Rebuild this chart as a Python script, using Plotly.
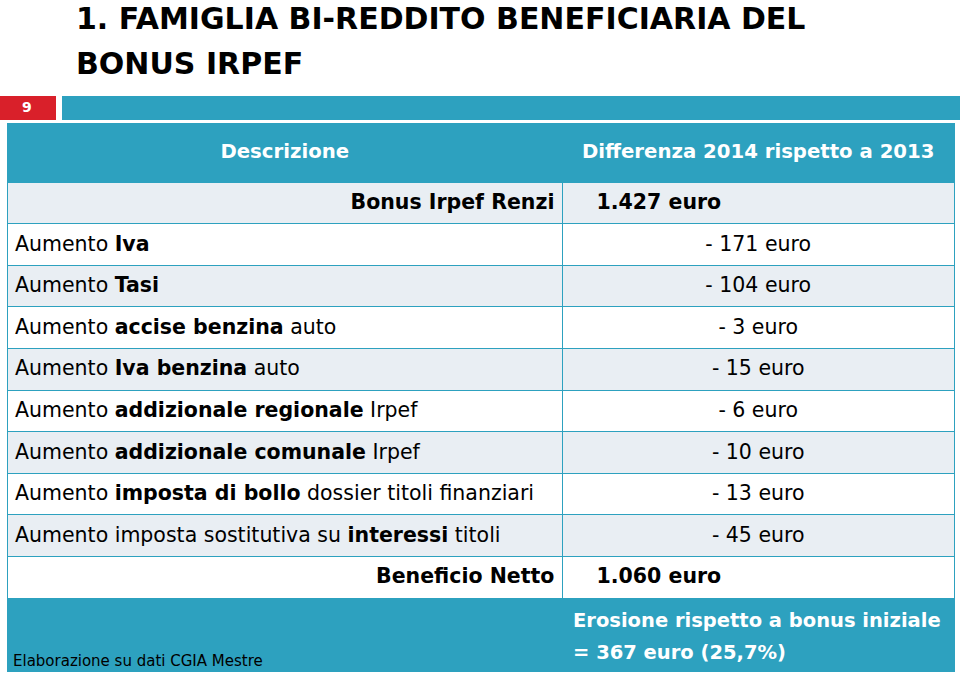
import plotly.graph_objects as go

# ---- data ----
title_lines = ["1. FAMIGLIA BI-REDDITO BENEFICIARIA DEL", "BONUS IRPEF"]
slide_number = "9"
header_labels = ["Descrizione", "Differenza 2014 rispetto a 2013"]
bonus_label = "Bonus Irpef Renzi"
bonus_value = 1427
cost_labels = [
    "Aumento <b>Iva</b>",
    "Aumento <b>Tasi</b>",
    "Aumento <b>accise benzina</b> auto",
    "Aumento <b>Iva benzina</b> auto",
    "Aumento <b>addizionale regionale</b> Irpef",
    "Aumento <b>addizionale comunale</b> Irpef",
    "Aumento <b>imposta di bollo</b> dossier titoli finanziari",
    "Aumento imposta sostitutiva su <b>interessi</b> titoli",
]
cost_values = [-171, -104, -3, -15, -6, -10, -13, -45]
net_label = "Beneficio Netto"
net_value = 1060
erosion_value = 367
erosion_pct = "25,7"
source_note = "Elaborazione su dati CGIA Mestre"

# ---- style ----
TEAL = "#2DA1BF"
LIGHT = "#E9EEF3"
RED = "#D9202A"
FONT = "DejaVu Sans"
W, H = 960, 674


def it_num(v):
    return f"{v:,}".replace(",", ".")


pad = "\u00a0" * 4
tbl_left, tbl_right = 7, 955
band_top = 123          # top of the teal header band
tbl_top = 132           # header text row starts a bit lower inside the band
header_h = 50
row_h = 41.6
colw = [556, 392]
line = dict(color=TEAL, width=1)
CELL_SIZE = 20.5
cell_font = dict(family=FONT, size=CELL_SIZE, color="black")


def dom(top, height):
    return dict(x=[tbl_left / W, tbl_right / W], y=[1 - (top + height + 1) / H, 1 - top / H])


fig = go.Figure()

# header + bonus row
fig.add_trace(go.Table(
    domain=dom(tbl_top, header_h + row_h),
    columnwidth=colw,
    header=dict(
        values=[f"<b>{h}</b>" for h in header_labels],
        fill_color=TEAL, line=line, align="center", height=header_h,
        font=dict(family=FONT, size=19.7, color="white"),
    ),
    cells=dict(
        values=[[f"<b>{bonus_label}</b>"], [f"{pad}<b>{it_num(bonus_value)} euro</b>"]],
        fill_color=LIGHT, line=line, align=["right", "left"], height=row_h, font=cell_font,
    ),
))

# cost rows (first one carried by the header slot so no empty header band shows)
costs_top = tbl_top + header_h + row_h
cost_texts = [f"<span>- {abs(v)} euro</span>" for v in cost_values]
fills = [("white" if i % 2 == 0 else LIGHT) for i in range(len(cost_labels))]
fig.add_trace(go.Table(
    domain=dom(costs_top, row_h * len(cost_labels)),
    columnwidth=colw,
    header=dict(
        values=[cost_labels[0], cost_texts[0]],
        fill_color=fills[0], line=line, align=["left", "center"], height=row_h, font=cell_font,
    ),
    cells=dict(
        values=[cost_labels[1:], cost_texts[1:]],
        fill_color=[fills[1:], fills[1:]], line=line, align=["left", "center"], height=row_h,
        font=cell_font,
    ),
))

# net row
net_top = costs_top + row_h * len(cost_labels)
fig.add_trace(go.Table(
    domain=dom(net_top, row_h),
    columnwidth=colw,
    header=dict(
        values=[f"<b>{net_label}</b>", f"{pad}<b>{it_num(net_value)} euro</b>"],
        fill_color="white", line=line, align=["right", "left"], height=row_h, font=cell_font,
    ),
    cells=dict(values=[]),
))
tbl_bottom = net_top + row_h

shapes = [
    dict(type="rect", xref="paper", yref="paper", x0=0, x1=56 / W, y0=1 - 120 / H, y1=1 - 96 / H,
         fillcolor=RED, line=dict(width=0), layer="below"),
    dict(type="rect", xref="paper", yref="paper", x0=62 / W, x1=1, y0=1 - 120 / H, y1=1 - 96 / H,
         fillcolor=TEAL, line=dict(width=0), layer="below"),
    dict(type="rect", xref="paper", yref="paper", x0=tbl_left / W, x1=tbl_right / W,
         y0=1 - (tbl_top + 1) / H, y1=1 - band_top / H,
         fillcolor=TEAL, line=dict(width=0), layer="below"),
    dict(type="rect", xref="paper", yref="paper", x0=tbl_left / W, x1=tbl_right / W,
         y0=1 - 672 / H, y1=1 - tbl_bottom / H,
         fillcolor=TEAL, line=dict(width=0), layer="below"),
]

annotations = [
    dict(text=f"<b>{title_lines[0]}</b>", x=74 / W, y=1 - 18 / H, xanchor="left", yanchor="middle",
         font=dict(family=FONT, size=30, color="black")),
    dict(text=f"<b>{title_lines[1]}</b>", x=74 / W, y=1 - 64 / H, xanchor="left", yanchor="middle",
         font=dict(family=FONT, size=30, color="black")),
    dict(text=f"<b>{slide_number}</b>", x=27 / W, y=1 - 107 / H, xanchor="center", yanchor="middle",
         font=dict(family=FONT, size=14, color="white")),
    dict(text="<b>Erosione rispetto a bonus iniziale</b>", x=571 / W, y=1 - 620 / H,
         xanchor="left", yanchor="middle", font=dict(family=FONT, size=19.5, color="white")),
    dict(text=f"<b>= {erosion_value} euro ({erosion_pct}%)</b>", x=571 / W, y=1 - 652 / H,
         xanchor="left", yanchor="middle", font=dict(family=FONT, size=19.5, color="white")),
    dict(text=source_note, x=11 / W, y=1 - 661 / H, xanchor="left", yanchor="middle",
         font=dict(family=FONT, size=15, color="black")),
]
for a in annotations:
    a.update(xref="paper", yref="paper", showarrow=False)

fig.update_layout(
    width=W, height=H,
    margin=dict(l=0, r=0, t=0, b=0),
    paper_bgcolor="white",
    plot_bgcolor="white",
    shapes=shapes,
    annotations=annotations,
    showlegend=False,
)

fig.write_html("out.html", config={"displayModeBar": False},
               post_script="document.body.style.margin='0';")
